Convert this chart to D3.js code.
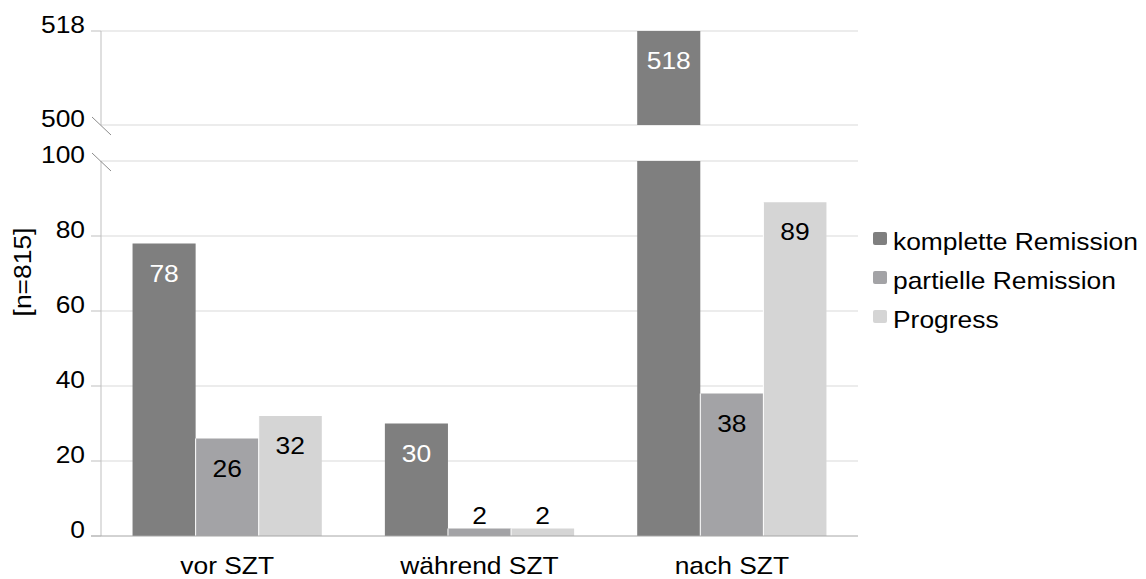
<!DOCTYPE html>
<html><head><meta charset="utf-8">
<script src="https://cdn.jsdelivr.net/npm/d3@7"></script>
<style>html,body{margin:0;padding:0;background:#fff;} svg{display:block;}</style>
</head><body>
<svg id="chart" width="1146" height="579"></svg>
<script>
const categories = ["vor SZT", "während SZT", "nach SZT"];
const seriesNames = ["komplette Remission", "partielle Remission", "Progress"];
const kompletteRemission = [78, 30, 518];
const partielleRemission = [26, 2, 38];
const progress = [32, 2, 89];
const lowerTicks = [0, 20, 40, 60, 80, 100];
const upperTicks = [500, 518];
const yTitle = "[n=815]";
const colors = ["#7f7f7f", "#a3a3a6", "#d5d5d5"];
const labelColors = ["#ffffff", "#000000", "#000000"];

const seriesValues = [kompletteRemission, partielleRemission, progress];
const SX = 1.1;
const FONT = "'Liberation Sans', Arial, sans-serif";
const FS = 24;

const svg = d3.select("#chart");
const left = 101, right = 858;
const x0 = d3.scaleBand().domain(categories).range([left, right]).paddingInner(0.25).paddingOuter(0.125);
const x1 = d3.scaleBand().domain(seriesNames).range([0, x0.bandwidth()]);
const yLow = d3.scaleLinear().domain([0, 100]).range([536, 161]);
const yUp = d3.scaleLinear().domain([500, 518]).range([125, 31]);

function txt(x, y, s, anchor, fill, rot) {
  return svg.append("text")
    .attr("transform", `translate(${x},${y})${rot ? " rotate(" + rot + ")" : ""} scale(${SX},1)`)
    .attr("text-anchor", anchor || "start")
    .attr("font-family", FONT).attr("font-size", FS)
    .attr("fill", fill || "#000").text(s);
}

// gridlines
const gridTicks = lowerTicks.filter(t => t > 0).map(t => yLow(t)).concat(upperTicks.map(t => yUp(t)));
svg.selectAll("line.grid").data(gridTicks).enter().append("line")
  .attr("x1", left).attr("x2", right).attr("y1", d => d).attr("y2", d => d)
  .attr("stroke", "#d9d9d9").attr("stroke-width", 1);

// bars
const data = [];
categories.forEach((c, ci) => seriesNames.forEach((s, si) => data.push({c, s, si, v: seriesValues[si][ci]})));
data.forEach(d => {
  const bx = x0(d.c) + x1(d.s), bw = x1.bandwidth();
  if (d.v > 100) {
    svg.append("rect").attr("x", bx).attr("width", bw).attr("y", yLow(100)).attr("height", yLow(0) - yLow(100)).attr("fill", colors[d.si]);
    svg.append("rect").attr("x", bx).attr("width", bw).attr("y", yUp(d.v)).attr("height", yUp(500) - yUp(d.v)).attr("fill", colors[d.si]);
  } else {
    svg.append("rect").attr("x", bx).attr("width", bw).attr("y", yLow(d.v)).attr("height", yLow(0) - yLow(d.v)).attr("fill", colors[d.si]);
  }
  if (d.si > 0) svg.append("line").attr("x1", bx).attr("x2", bx).attr("y1", yLow(Math.min(100, d.v))).attr("y2", yLow(0)).attr("stroke", "#fff").attr("stroke-width", 1);
});

// data labels
data.forEach(d => {
  const cx = x0(d.c) + x1(d.s) + x1.bandwidth() / 2;
  const top = d.v > 100 ? yUp(d.v) : yLow(d.v);
  const h = d.v > 100 ? yUp(500) - top : yLow(0) - top;
  if (h > 40) txt(cx, top + 38, String(d.v), "middle", labelColors[d.si]);
  else txt(cx, top - 5, String(d.v), "middle", "#000");
});

// axes
svg.append("line").attr("x1", left).attr("x2", left).attr("y1", yUp(518)).attr("y2", yUp(500)).attr("stroke", "#bfbfbf");
svg.append("line").attr("x1", left).attr("x2", left).attr("y1", yLow(100)).attr("y2", yLow(0)).attr("stroke", "#bfbfbf");
svg.append("line").attr("x1", left - 10).attr("x2", right).attr("y1", yLow(0)).attr("y2", yLow(0)).attr("stroke", "#a6a6a6");

// ticks and tick labels
lowerTicks.forEach(t => {
  const y = yLow(t);
  if (t === 100) svg.append("line").attr("x1", left - 9).attr("y1", y - 8).attr("x2", left + 10).attr("y2", y + 10).attr("stroke", "#8c8c8c");
  else svg.append("line").attr("x1", left - 10).attr("x2", left).attr("y1", y).attr("y2", y).attr("stroke", "#bfbfbf");
  txt(85, y + 2, String(t), "end");
});
upperTicks.forEach(t => {
  const y = yUp(t);
  if (t === 500) svg.append("line").attr("x1", left - 9).attr("y1", y - 8).attr("x2", left + 10).attr("y2", y + 10).attr("stroke", "#8c8c8c");
  else svg.append("line").attr("x1", left - 10).attr("x2", left).attr("y1", y).attr("y2", y).attr("stroke", "#bfbfbf");
  txt(85, y + 2, String(t), "end");
});

// category labels
categories.forEach(c => txt(x0(c) + x0.bandwidth() / 2, 574, c, "middle"));

// y title
txt(31, 272, yTitle, "middle", "#000", -90);

// legend
seriesNames.forEach((s, i) => {
  const by = 250 + i * 39;
  svg.append("rect").attr("x", 873).attr("y", by - 18).attr("width", 14).attr("height", 13).attr("rx", 2).attr("fill", colors[i]);
  txt(893, by, s, "start");
});
</script>
</body></html>
